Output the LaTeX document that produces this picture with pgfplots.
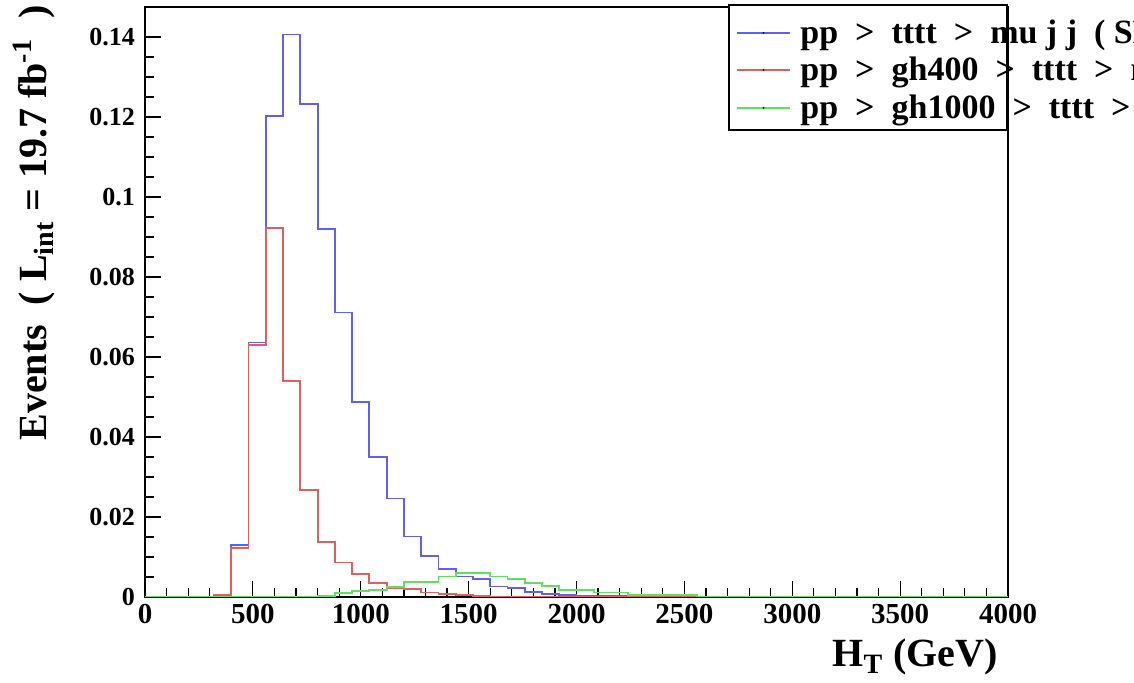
\documentclass[border=0pt]{standalone}
\usepackage{fontspec}
\setmainfont{Liberation Serif}
\usepackage{pgfplots}
\pgfplotsset{compat=1.18}
\definecolor{hblue}{RGB}{95,95,240}
\definecolor{hred}{RGB}{225,95,95}
\definecolor{hgreen}{RGB}{95,225,95}
\newcommand\gap{\hspace{0.5em}}
\pgfplotstableread{
x y
0 0
320 0.0006
400 0.0130
480 0.0636
560 0.1203
640 0.1406
720 0.1232
800 0.0919
880 0.0711
960 0.0488
1040 0.0350
1120 0.0246
1200 0.0151
1280 0.0102
1360 0.0070
1440 0.0051
1520 0.0044
1600 0.0026
1680 0.0022
1760 0.0013
1840 0.0008
1920 0.0004
2000 0.0003
2080 0.0002
2160 0.0002
2240 0.0001
2320 0
4000 0
}\bluedata
\pgfplotstableread{
x y
0 0
320 0.0005
400 0.0123
480 0.0630
560 0.0922
640 0.0539
720 0.0267
800 0.0138
880 0.0086
960 0.0057
1040 0.0034
1120 0.0023
1200 0.0019
1280 0.0011
1360 0.0007
1440 0.0004
1520 0.0003
1600 0.0001
1680 0
4000 0
}\reddata
\pgfplotstableread{
x y
0 0
720 0.0001
800 0.0003
880 0.0009
960 0.0014
1040 0.0017
1120 0.0024
1200 0.0038
1280 0.0038
1360 0.0051
1440 0.0059
1520 0.0059
1600 0.0051
1680 0.0044
1760 0.0034
1840 0.0027
1920 0.0017
2000 0.0017
2080 0.0011
2160 0.0011
2240 0.0005
2320 0.0005
2400 0.0005
2480 0.0005
2560 0
4000 0
}\greendata
\begin{document}
\begin{tikzpicture}[font=\bfseries]
\path[use as bounding box] (0,0) rectangle (567pt,341.5pt);
\clip (0,0) rectangle (567pt,341.5pt);
\begin{axis}[
  at={(72.5pt,43pt)}, anchor=south west,
  scale only axis, width=431.5pt, height=295pt,
  xmin=0, xmax=4000, ymin=0, ymax=0.1475,
  xtick={0,500,1000,1500,2000,2500,3000,3500,4000},
  minor x tick num=4,
  ytick={0,0.02,0.04,0.06,0.08,0.1,0.12,0.14},
  minor y tick num=3,
  tick align=inside, xtick pos=bottom, ytick pos=left,
  major tick length=8pt, minor tick length=4.5pt,
  axis line style={line width=0.75pt},
  every tick/.style={black, line width=0.6pt},
  scaled x ticks=false, scaled y ticks=false,
  /pgf/number format/assume math mode=true,
  /pgf/number format/1000 sep={},
  yticklabel style={font=\fontsize{13}{15}\selectfont\bfseries, xshift=-1.5pt, /pgf/number format/fixed, /pgf/number format/precision=2},
  xticklabel style={font=\fontsize{14.5}{16}\selectfont\bfseries},
]
\addplot[const plot, hblue, line width=0.9pt] table {\bluedata};
\addplot[const plot, hred, line width=0.9pt] table {\reddata};
\addplot[const plot, hgreen, line width=0.9pt] table {\greendata};
\end{axis}
% axis titles
\node[rotate=90, anchor=base east, inner sep=0pt, font=\fontsize{20}{24}\selectfont\bfseries] at (23.5pt,339pt)
  {Events \ ( L\textsubscript{int} = 19.7 fb\textsuperscript{-1} \ )};
\node[anchor=base east, inner sep=0pt, font=\fontsize{20}{24}\selectfont\bfseries] at (499pt,8pt)
  {H\textsubscript{T} (GeV)};
% legend
\draw[fill=white, line width=0.6pt] (364.5pt,276.5pt) rectangle (503.5pt,339pt);
\draw[hblue, line width=0.7pt] (368.5pt,325pt) -- (395pt,325pt);
\fill[black] (381.75pt,325pt) circle (0.5pt);
\draw[hred, line width=0.7pt] (368.5pt,306.5pt) -- (395pt,306.5pt);
\fill[black] (381.75pt,306.5pt) circle (0.5pt);
\draw[hgreen, line width=0.7pt] (368.5pt,287.5pt) -- (395pt,287.5pt);
\fill[black] (381.75pt,287.5pt) circle (0.5pt);
\begin{scope}[every node/.style={anchor=west, inner sep=0pt, font=\fontsize{17}{19}\selectfont\bfseries}]
\node at (400pt,324pt) {pp\gap>\gap tttt\gap>\gap mu j j\gap ( SM )};
\node at (400pt,305.5pt) {pp\gap>\gap gh400\gap>\gap tttt\gap>\gap mu j j};
\node at (400pt,286.5pt) {pp\gap>\gap gh1000\gap>\gap tttt\gap>\gap mu j j};
\end{scope}
\end{tikzpicture}
\end{document}
